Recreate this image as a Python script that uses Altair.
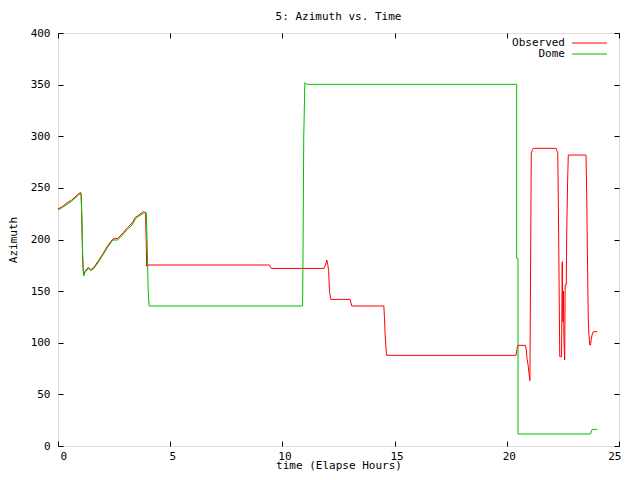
import altair as alt
import pandas as pd

# Observed azimuth (red)
time_obs = [0.0, 0.2, 0.4, 0.6, 0.8, 0.9, 1.0, 1.03, 1.06, 1.1, 1.14, 1.2, 1.35, 1.45, 1.6, 1.8, 2.0, 2.2,
            2.44, 2.66, 2.9, 3.1, 3.3, 3.45, 3.56, 3.8, 3.9, 3.93, 3.95, 3.97, 9.42, 9.5, 11.85, 11.92,
            11.98, 12.02, 12.06, 12.1, 12.16, 13.02, 13.09, 14.52, 14.55, 14.58, 14.62, 14.65, 20.41,
            20.43, 20.48, 20.83, 20.87, 20.9, 20.96, 20.99, 21.03, 21.06, 21.09, 21.13, 21.18, 22.2,
            22.23, 22.27, 22.3, 22.34, 22.36, 22.44, 22.47, 22.5, 22.52, 22.55, 22.58, 22.6, 22.65,
            22.67, 22.71, 22.74, 23.53, 23.56, 23.6, 23.63, 23.66, 23.7, 23.73, 23.76, 23.8, 23.85, 24.03]
az_obs = [229.5, 232, 235.5, 238, 242, 244, 245.5, 244, 220, 180, 165.5, 169, 173, 170.5, 173, 179.5, 186,
          193.5, 200.5, 201, 206.5, 211.5, 216, 221.5, 223, 227, 226, 200, 174, 175.3, 175.3, 172, 172,
          175, 180, 176, 170, 149.5, 142, 142, 135.6, 135.6, 123.7, 106.5, 93.6, 87.8, 87.8, 90, 97.5,
          97.5, 93, 84.9, 76.8, 70, 63.3, 173.6, 283.5, 286, 288.3, 288.3, 286, 284, 231.8, 135, 86.5,
          86.5, 178.5, 120, 150, 100, 83.3, 156, 156, 206, 256, 281.8, 281.8, 244.7, 172, 125, 107.5,
          97.8, 97.8, 103, 107.5, 110.7, 110.7]

# Dome azimuth (green)
time_dome = [0.0, 0.2, 0.4, 0.6, 0.8, 0.9, 1.03, 1.06, 1.1, 1.14, 1.2, 1.35, 1.45, 1.6, 1.8, 2.0, 2.2, 2.44,
             2.66, 2.9, 3.1, 3.3, 3.45, 3.56, 3.85, 3.93, 3.97, 4.02, 4.06, 10.9, 10.92, 10.95, 11.0,
             11.1, 20.44, 20.44, 20.5, 20.5, 23.73, 23.8, 24.03]
az_dome = [228.6, 231, 234, 237, 241, 243, 244.7, 225, 185, 164.6, 168, 172, 169.8, 172, 178, 185, 192,
           199.5, 199.5, 205, 210, 214, 220, 222, 226, 226, 200, 150, 135.6, 135.6, 188, 297, 351.9,
           350.3, 350.3, 181.8, 181.8, 11.6, 11.6, 16.1, 16.1]

x_ticks = [0, 5, 10, 15, 20, 25]
y_ticks = [0, 50, 100, 150, 200, 250, 300, 350, 400]

series_names = ["Observed", "Dome"]
series_colors = ["#ff0000", "#00c000"]

df_obs = pd.DataFrame({"t": time_obs, "az": az_obs, "i": range(len(time_obs))})
df_dome = pd.DataFrame({"t": time_dome, "az": az_dome, "i": range(len(time_dome))})

FONT = "DejaVu Sans Mono"
FS = 11
TICK = 5

xs = alt.Scale(domain=[0, 25], nice=False, zero=False)
ys = alt.Scale(domain=[0, 400], nice=False, zero=False)

common_axis = dict(grid=False, domain=False, tickSize=TICK, offset=-TICK, tickColor="black",
                   labelFont=FONT, labelFontSize=FS, labelColor="black", titleFont=FONT,
                   titleFontSize=FS, titleFontWeight="normal", titleColor="black")

ax_bottom = alt.Axis(orient="bottom", values=x_ticks, title="time (Elapse Hours)", labelPadding=4,
                     labelOffset=2, titlePadding=-2, **common_axis)
ax_left = alt.Axis(orient="left", values=y_ticks, title="Azimuth", labelPadding=8, titlePadding=12,
                   **common_axis)
ax_top = alt.Axis(orient="top", values=x_ticks, title=None, labels=False, **common_axis)
ax_right = alt.Axis(orient="right", values=y_ticks, title=None, labels=False, **common_axis)

obs = alt.Chart(df_obs).mark_line(color=series_colors[0], strokeWidth=1).encode(
    x=alt.X("t:Q", scale=xs, axis=ax_bottom),
    y=alt.Y("az:Q", scale=ys, axis=ax_left),
    order=alt.Order("i:Q"),
)
dome = alt.Chart(df_dome).mark_line(color=series_colors[1], strokeWidth=1).encode(
    x=alt.X("t:Q", scale=xs, axis=ax_top),
    y=alt.Y("az:Q", scale=ys, axis=ax_right),
    order=alt.Order("i:Q"),
)

# gnuplot-style key (top right, inside plot)
legend_layers = []
for k, (name, col) in enumerate(zip(series_names, series_colors)):
    yy = 10 + 11 * k
    legend_layers.append(
        alt.Chart(pd.DataFrame({"n": [name]})).mark_text(
            align="right", baseline="middle", font=FONT, fontSize=FS, color="black"
        ).encode(x=alt.value(507), y=alt.value(yy), text="n:N")
    )
    legend_layers.append(
        alt.Chart(pd.DataFrame({"n": [name]})).mark_rule(color=col, strokeWidth=1).encode(
            x=alt.value(514), x2=alt.value(549), y=alt.value(yy)
        )
    )

chart = alt.layer(obs, dome, *legend_layers).resolve_axis(
    x="independent", y="independent"
).properties(
    width=561,
    height=413,
    autosize="none",
    padding={"left": 50, "top": 25, "right": 13, "bottom": 26},
    title=alt.TitleParams("5: Azimuth vs. Time", font=FONT, fontSize=FS, fontWeight="normal",
                          color="black", anchor="middle", offset=5),
).configure_view(stroke="black", strokeWidth=1).configure(background="white")

chart.save("out.html", embed_options={"renderer": "svg", "actions": False})
